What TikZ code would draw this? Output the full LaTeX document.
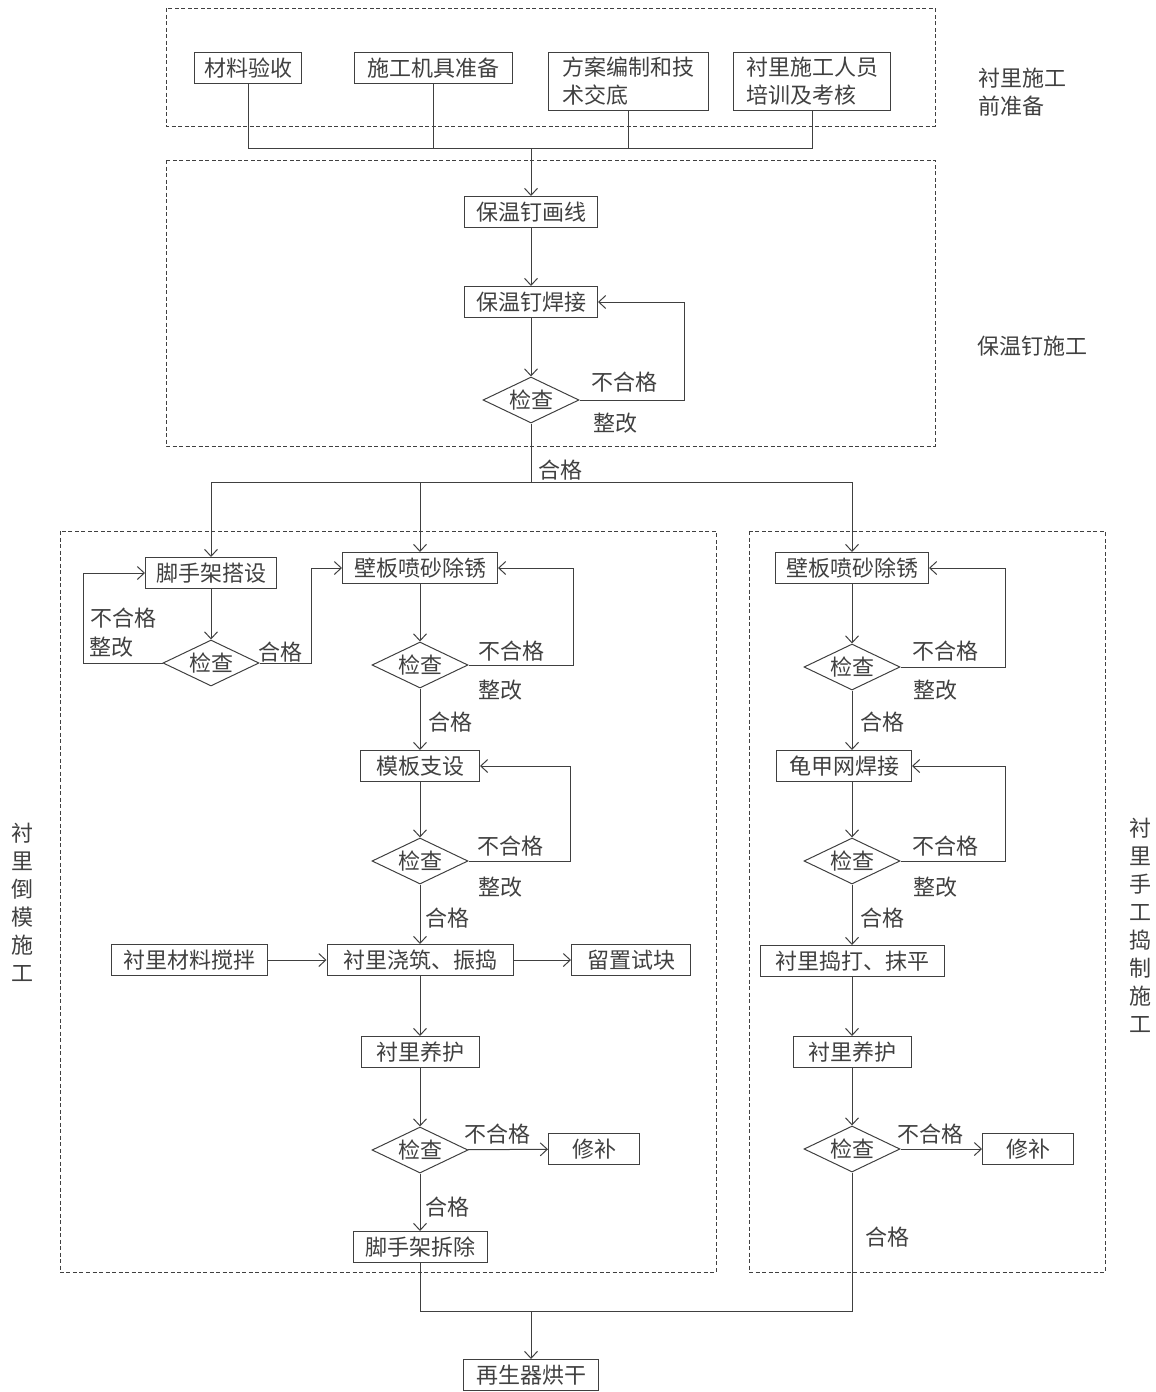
\documentclass[tikz,border=0pt]{standalone}
\usepackage{fontspec}
\setmainfont{Noto Sans CJK SC}
\usetikzlibrary{shapes.geometric,arrows.meta}

\tikzset{
  stepbox/.style={draw, minimum height=31pt, inner xsep=0pt, inner ysep=0pt},
  check/.style={draw, diamond, aspect=2.1, minimum width=96pt, minimum height=46pt, inner sep=0pt},
  zone/.style={draw, dash pattern=on 4pt off 2.5pt, line width=0.8pt},
  note/.style={inner sep=0pt},
}

\begin{document}
\begin{tikzpicture}[x=1pt, y=-1pt, >={Straight Barb[length=7pt,width=13pt]}, line width=1pt,
    color=black!75, font=\fontsize{22pt}{28pt}\selectfont]
        \useasboundingbox (0,0) rectangle (1156,1392);

        % dashed zones
        \draw[zone] (166,8) rectangle (935,126);
        \draw[zone] (166,160) rectangle (935,446);
        \draw[zone] (60,531) rectangle (716,1272);
        \draw[zone] (749,531) rectangle (1105,1272);

        % preparation
        \node[stepbox, minimum width=107pt] (cl) at (248,68) {材料验收};
        \node[stepbox, minimum width=158pt] (jj) at (433,68) {施工机具准备};
        \node[stepbox, minimum width=160pt, minimum height=58pt, align=left] (fa) at (628,81) {方案编制和技\\术交底};
        \node[stepbox, minimum width=157pt, minimum height=58pt, align=left] (px) at (812,81) {衬里施工人员\\培训及考核};
        \node[note, align=left] (zb) at (1022,92) {衬里施工\\前准备};

        \coordinate (hub1) at (531,148);
        \draw (cl.south) |- (px.south |- hub1) -- (px.south);
        \draw (jj.south) -- (jj.south |- hub1);
        \draw (fa.south) -- (fa.south |- hub1);

        % insulation nails
        \node[stepbox, minimum width=133pt] (hx) at (531,212) {保温钉画线};
        \node[stepbox, minimum width=133pt] (hj) at (531,302) {保温钉焊接};
        \node[check] (c1) at (531,400) {检查};
        \node[note] (bt) at (1032,346) {保温钉施工};
        \draw[->] (hub1) -- (hx.north);
        \draw[->] (hx) -- (hj);
        \draw[->] (hj) -- (c1);
        \draw[->] (c1.east) -- ++(105,0) |- (hj.east);
        \node[note] at (624,382) {不合格};
        \node[note] at (615,423) {整改};

        \coordinate (hub2) at (531,482);
        \draw (c1.south) -- (hub2);
        \node[note] at (560,470) {合格};

        % lining by formwork
        \node[stepbox, minimum width=131pt] (jd) at (211,573) {脚手架搭设};
        \node[check] (c2) at (211,663) {检查};
        \node[stepbox, minimum width=155pt] (pa) at (420,568) {壁板喷砂除锈};
        \node[check] (c3) at (420,665) {检查};
        \node[stepbox, minimum width=119pt] (mb) at (420,766) {模板支设};
        \node[check] (c4) at (420,861) {检查};
        \node[stepbox, minimum width=186pt] (jz) at (420,960) {衬里浇筑、振捣};
        \node[stepbox, minimum width=156pt] (jb) at (189,960) {衬里材料搅拌};
        \node[stepbox, minimum width=119pt] (sk) at (631,960) {留置试块};
        \node[stepbox, minimum width=118pt] (yh) at (420,1052) {衬里养护};
        \node[check] (c5) at (420,1150) {检查};
        \node[stepbox, minimum width=91pt] (xb) at (594,1149) {修补};
        \node[stepbox, minimum width=134pt] (cc) at (420,1247) {脚手架拆除};
        \node[note, align=center] (lz) at (22,902) {衬\\里\\倒\\模\\施\\工};

        \draw[->] (hub2) -| (jd.north);
        \draw[->] (hub2) -| (pa.north);
        \draw[->] (jd) -- (c2);
        \draw[->] (c2.west) -- ++(-79,0) |- (jd.west);
        \draw[->] (c2.east) -- ++(52,0) |- (pa.west);
        \node[note] at (123,618) {不合格};
        \node[note] at (111,647) {整改};
        \node[note] at (280,652) {合格};
        \draw[->] (pa) -- (c3);
        \draw[->] (c3.east) -- ++(105,0) |- (pa.east);
        \node[note] at (511,651) {不合格};
        \node[note] at (500,690) {整改};
        \draw[->] (c3) -- (mb);
        \node[note] at (450,722) {合格};
        \draw[->] (mb) -- (c4);
        \draw[->] (c4.east) -- ++(102,0) |- (mb.east);
        \node[note] at (510,846) {不合格};
        \node[note] at (500,887) {整改};
        \draw[->] (c4) -- (jz);
        \node[note] at (447,918) {合格};
        \draw[->] (jb) -- (jz);
        \draw[->] (jz) -- (sk);
        \draw[->] (jz) -- (yh);
        \draw[->] (yh) -- (c5);
        \draw[->] (c5) -- (xb);
        \node[note] at (497,1134) {不合格};
        \draw[->] (c5) -- (cc);
        \node[note] at (447,1207) {合格};

        % lining by hand
        \node[stepbox, minimum width=153pt] (pb) at (852,568) {壁板喷砂除锈};
        \node[check] (c6) at (852,667) {检查};
        \node[stepbox, minimum width=135pt] (gj) at (844,766) {龟甲网焊接};
        \node[check] (c7) at (852,861) {检查};
        \node[stepbox, minimum width=184pt] (dd) at (852,961) {衬里捣打、抹平};
        \node[stepbox, minimum width=118pt] (yh2) at (852,1052) {衬里养护};
        \node[check] (c8) at (852,1149) {检查};
        \node[stepbox, minimum width=91pt] (xb2) at (1028,1149) {修补};
        \node[note, align=center] (sg) at (1140,925) {衬\\里\\手\\工\\捣\\制\\施\\工};

        \draw[->] (hub2) -| (pb.north);
        \draw[->] (pb) -- (c6);
        \draw[->] (c6.east) -- ++(105,0) |- (pb.east);
        \node[note] at (945,651) {不合格};
        \node[note] at (935,690) {整改};
        \draw[->] (c6.south) -- (c6.south |- gj.north);
        \node[note] at (882,722) {合格};
        \draw[->] (c7.north |- gj.south) -- (c7.north);
        \draw[->] (c7.east) -- ++(105,0) |- (gj.east);
        \node[note] at (945,846) {不合格};
        \node[note] at (935,887) {整改};
        \draw[->] (c7) -- (dd);
        \node[note] at (882,918) {合格};
        \draw[->] (dd) -- (yh2);
        \draw[->] (yh2) -- (c8);
        \draw[->] (c8) -- (xb2);
        \node[note] at (930,1134) {不合格};
        \node[note] at (887,1237) {合格};

        % drying
        \coordinate (hub3) at (531,1311);
        \node[stepbox, minimum width=135pt] (hg) at (531,1375) {再生器烘干};
        \draw (cc.south) |- (hub3);
        \draw (c8.south) |- (hub3);
        \draw[->] (hub3) -- (hg.north);
    \end{tikzpicture}
\end{document}
